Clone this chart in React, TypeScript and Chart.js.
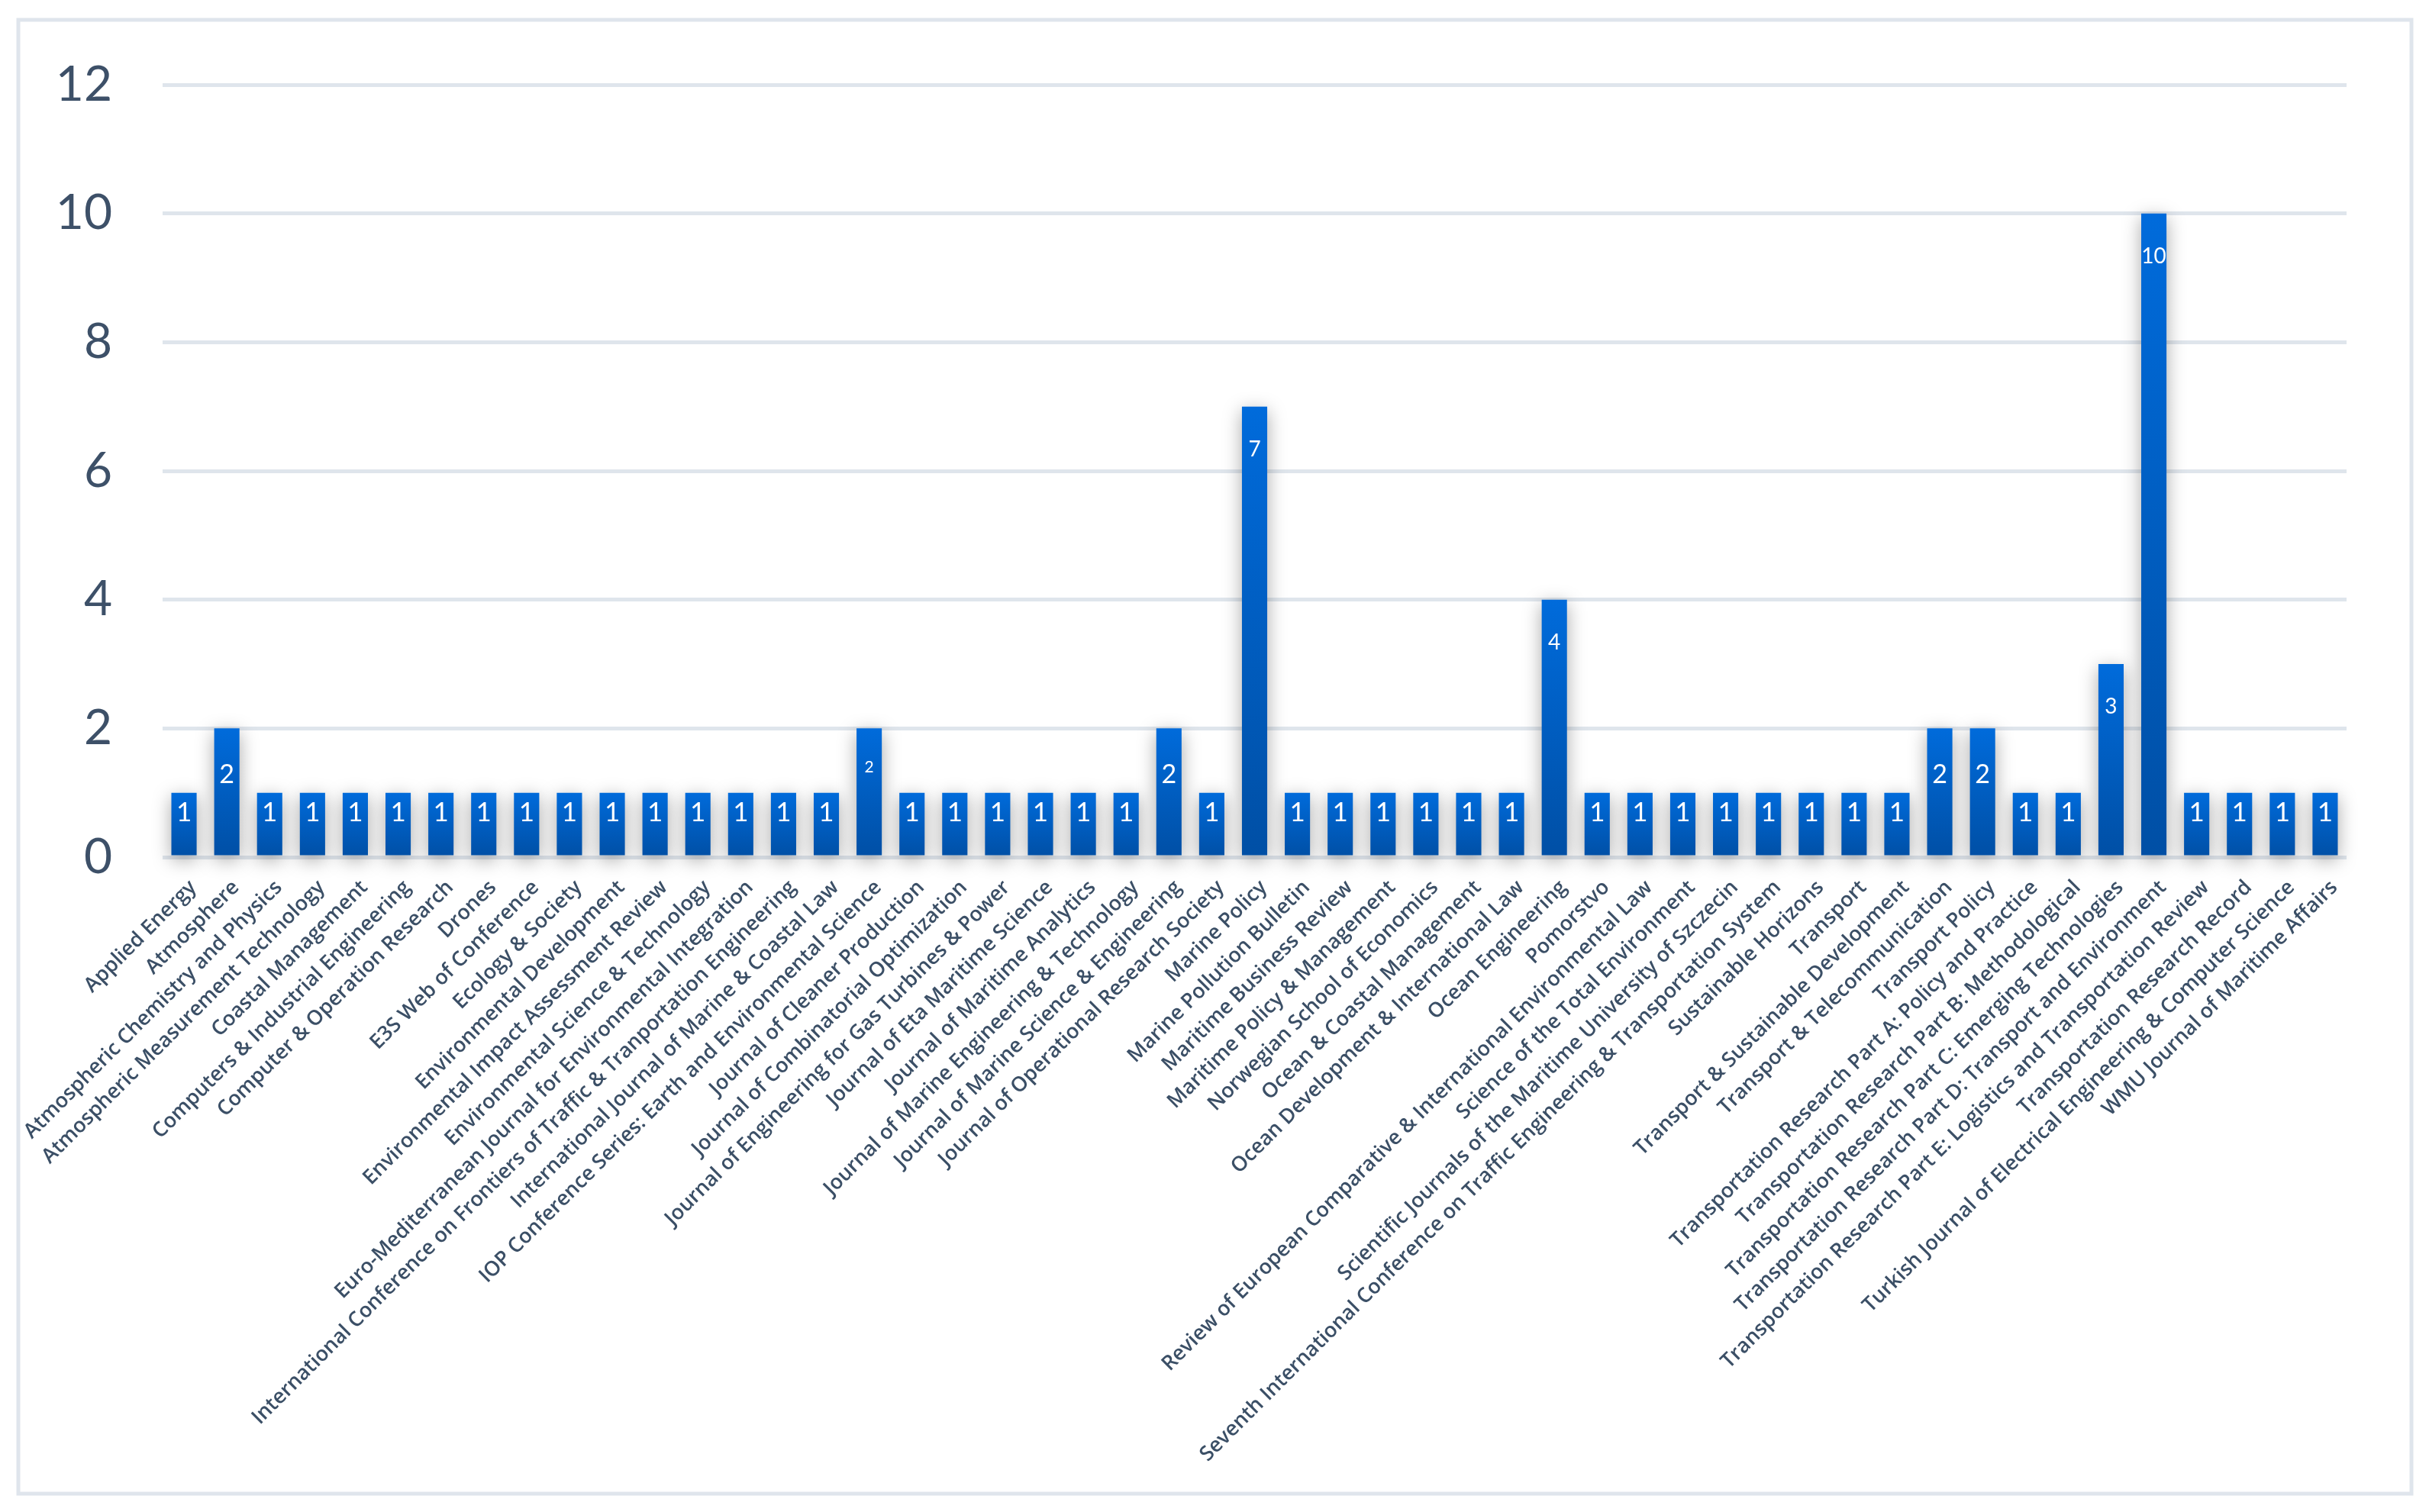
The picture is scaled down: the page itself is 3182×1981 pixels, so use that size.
import React, { useEffect, useRef } from "react";
import { Chart, registerables } from "chart.js";

Chart.register(...registerables);

const categories = [
  "Applied Energy",
  "Atmosphere",
  "Atmospheric Chemistry and Physics",
  "Atmospheric Measurement Technology",
  "Coastal Management",
  "Computers & Industrial Engineering",
  "Computer & Operation Research",
  "Drones",
  "E3S Web of Conference",
  "Ecology & Society",
  "Environmental Development",
  "Environmental Impact Assessment Review",
  "Environmental Science & Technology",
  "Euro-Mediterranean Journal for Environmental Integration",
  "International Conference on Frontiers of Traffic & Tranportation Engineering",
  "International Journal of Marine & Coastal Law",
  "IOP Conference Series: Earth and Environmental Science",
  "Journal of Cleaner Production",
  "Journal of Combinatorial Optimization",
  "Journal of Engineering for Gas Turbines & Power",
  "Journal of Eta Maritime Science",
  "Journal of Maritime Analytics",
  "Journal of Marine Engineering & Technology",
  "Journal of Marine Science & Engineering",
  "Journal of Operational Research Society",
  "Marine Policy",
  "Marine Pollution Bulletin",
  "Maritime Business Review",
  "Maritime Policy & Management",
  "Norwegian School of Economics",
  "Ocean & Coastal Management",
  "Ocean Development & International Law",
  "Ocean Engineering",
  "Pomorstvo",
  "Review of European Comparative & International Environmental Law",
  "Science of the Total Environment",
  "Scientific Journals of the Maritime University of Szczecin",
  "Seventh International Conference on Traffic Engineering & Transportation System",
  "Sustainable Horizons",
  "Transport",
  "Transport & Sustainable Development",
  "Transport & Telecommunication",
  "Transport Policy",
  "Transportation Research Part A: Policy and Practice",
  "Transportation Research Part B: Methodological",
  "Transportation Research Part C: Emerging Technologies",
  "Transportation Research Part D: Transport and Environment",
  "Transportation Research Part E: Logistics and Transportation Review",
  "Transportation Research Record",
  "Turkish Journal of Electrical Engineering & Computer Science",
  "WMU Journal of Maritime Affairs",
];

const counts = [
  1, 2, 1, 1, 1, 1, 1, 1, 1, 1,
  1, 1, 1, 1, 1, 1, 2, 1, 1, 1,
  1, 1, 1, 2, 1, 7, 1, 1, 1, 1,
  1, 1, 4, 1, 1, 1, 1, 1, 1, 1,
  1, 2, 2, 1, 1, 3, 10, 1, 1, 1,
  1,
];

const yTickValues = [0, 2, 4, 6, 8, 10, 12];

const W = 3182;
const H = 1981;

export default function App() {
  const ref = useRef<HTMLCanvasElement>(null);

  useEffect(() => {
    const canvas = ref.current!;

    const framePlugin = {
      id: "frame",
      beforeDraw(chart: any) {
        const c = chart.ctx;
        c.save();
        c.fillStyle = "#ffffff";
        c.fillRect(0, 0, W, H);
        c.strokeStyle = "#dfe5ec";
        c.lineWidth = 5;
        c.strokeRect(24, 26, 3135, 1931);
        c.restore();
      },
    };

    const barDecor = {
      id: "barDecor",
      beforeDatasetsDraw(chart: any) {
        const c = chart.ctx;
        c.save();
        c.shadowColor = "rgba(0,0,0,0.34)";
        c.shadowBlur = 24;
        c.shadowOffsetX = 0;
        c.shadowOffsetY = 6;
      },
      afterDatasetsDraw(chart: any) {
        const c = chart.ctx;
        c.restore();
        const meta = chart.getDatasetMeta(0);
        c.save();
        c.fillStyle = "#ffffff";
        c.textAlign = "center";
        c.textBaseline = "middle";
        meta.data.forEach((bar: any, i: number) => {
          const v = counts[i];
          let size = 35;
          let off = 26;
          if (v === 2) {
            size = 34;
            off = 61;
            if (i === 16) {
              size = 21;
              off = 51;
            }
          } else if (v > 2) {
            size = 28;
            off = 56;
          }
          c.font = `${size}px Lato`;
          c.fillText(String(v), bar.x, bar.y + off);
        });
        c.restore();
      },
    };

    const chart = new Chart(canvas, {
      type: "bar",
      data: {
        labels: categories,
        datasets: [
          {
            data: counts,
            clip: false as any,
            barPercentage: 0.59,
            categoryPercentage: 1,
            borderWidth: 0,
            backgroundColor: (ctx: any) => {
              const chart = ctx.chart;
              const ys = chart.scales?.y;
              if (!ys || !chart.chartArea || ctx.raw == null) return "#005cc0";
              const top = ys.getPixelForValue(ctx.raw);
              const bottom = ys.getPixelForValue(0);
              const g = chart.ctx.createLinearGradient(0, top, 0, bottom);
              g.addColorStop(0, "#006bdb");
              g.addColorStop(1, "#004fa5");
              return g;
            },
          },
        ],
      },
      options: {
        animation: false,
        responsive: false,
        devicePixelRatio: 1,
        layout: { padding: { top: 111, right: 108, bottom: 0, left: 0 } },
        plugins: {
          legend: { display: false },
          tooltip: { enabled: false },
        },
        scales: {
          x: {
            grid: { display: false, drawTicks: false },
            border: { display: false },
            ticks: {
              autoSkip: false,
              minRotation: 45,
              maxRotation: 45,
              padding: 24,
              labelOffset: 12,
              color: "#3b4f66",
              font: { family: "'Open Sans'", size: 27, weight: 600 },
            },
            afterFit: (s: any) => {
              s.height = H - 1123;
            },
          },
          y: {
            min: 0,
            max: 12,
            grid: { color: "#dfe5ec", lineWidth: 5, drawTicks: false },
            border: { display: false },
            afterBuildTicks: (s: any) => {
              s.ticks = yTickValues.map((v) => ({ value: v }));
            },
            ticks: {
              padding: 66,
              color: "#3d5068",
              font: { family: "Lato", size: 64 },
            },
            afterFit: (s: any) => {
              s.width = 213;
            },
          },
        },
      },
      plugins: [framePlugin, barDecor],
    });

    return () => chart.destroy();
  }, []);

  return (
    <div style={{ position: "absolute", left: 0, top: 0, width: W, height: H, background: "#fff" }}>
      <canvas ref={ref} width={W} height={H} style={{ display: "block", width: W, height: H }} />
    </div>
  );
}
